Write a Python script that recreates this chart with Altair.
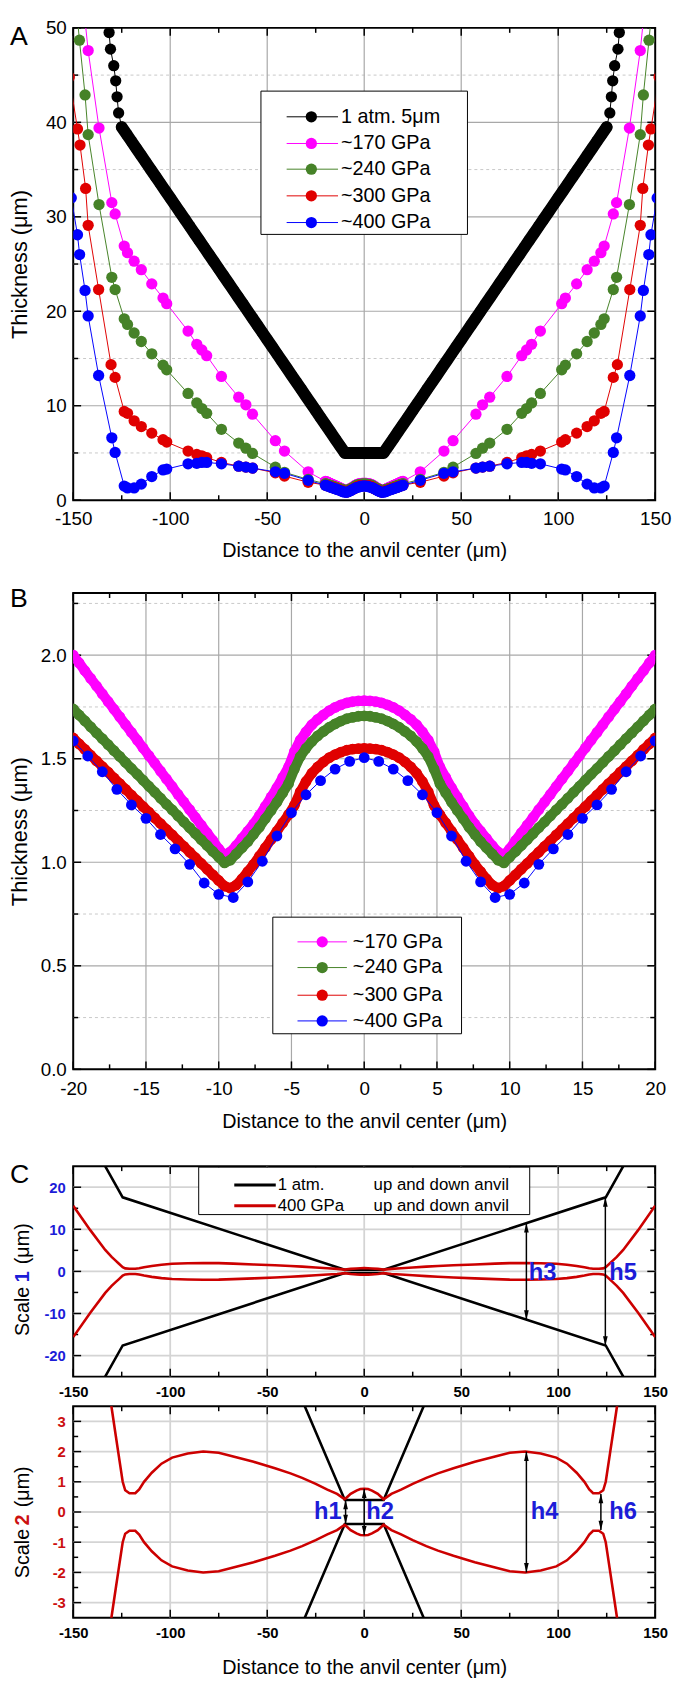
import altair as alt
import pandas as pd

FONT = "Liberation Sans, Arial, sans-serif"
W = 589
H_A, H_B, H_CU, H_CL = 478, 482, 213, 214

COL_BLACK = "#000000"
COL_MAG = "#ff00ff"
COL_GRN = "#468228"
COL_RED = "#e00000"
COL_BLU = "#0000ff"
COL_CRED = "#cc0000"
COL_LBLUE = "#1c1cd8"
COL_LRED = "#cc1010"
GRID_MAJOR = "#a8a8a8"
GRID_MINOR = "#c8c8c8"
GRID_C = "#d4d4d4"

# ---------------- Panel A data ----------------
A_BLACK_X = [-132.3, -131.5, -130.8, -129.1, -128.1, -127.4, -126.6,
             -125.0, -122.5, -120.0, -117.5, -115.0, -112.5, -110.0, -107.5, -105.0, -102.5,
             -100.0, -97.5, -95.0, -92.5, -90.0, -87.5, -85.0, -82.5, -80.0, -77.5, -75.0,
             -72.5, -70.0, -67.5, -65.0, -62.5, -60.0, -57.5, -55.0, -52.5, -50.0, -47.5,
             -45.0, -42.5, -40.0, -37.5, -35.0, -32.5, -30.0, -27.5, -25.0, -22.5, -20.0,
             -17.5, -15.0, -12.5, -10.0,
             -7.5, -5.0, -2.5, 0.0, 2.5, 5.0, 7.5,
             10.0, 12.5, 15.0, 17.5, 20.0, 22.5, 25.0, 27.5, 30.0, 32.5, 35.0, 37.5, 40.0,
             42.5, 45.0, 47.5, 50.0, 52.5, 55.0, 57.5, 60.0, 62.5, 65.0, 67.5, 70.0, 72.5,
             75.0, 77.5, 80.0, 82.5, 85.0, 87.5, 90.0, 92.5, 95.0, 97.5, 100.0, 102.5, 105.0,
             107.5, 110.0, 112.5, 115.0, 117.5, 120.0, 122.5, 125.0,
             126.6, 127.4, 128.1, 129.1, 130.8, 131.5, 132.3]
A_BLACK_Y = [51.3, 49.5, 47.75, 46.0, 44.4, 42.7, 41.0,
             39.5, 38.75, 38.0, 37.25, 36.5, 35.75, 35.0, 34.25, 33.5, 32.75,
             32.0, 31.25, 30.5, 29.75, 29.0, 28.25, 27.5, 26.75, 26.0, 25.25, 24.5,
             23.75, 23.0, 22.25, 21.5, 20.75, 20.0, 19.25, 18.5, 17.75, 17.0, 16.25,
             15.5, 14.75, 14.0, 13.25, 12.5, 11.75, 11.0, 10.25, 9.5, 8.75, 8.0,
             7.25, 6.5, 5.75, 5.0,
             5.0, 5.0, 5.0, 5.0, 5.0, 5.0, 5.0,
             5.0, 5.75, 6.5, 7.25, 8.0, 8.75, 9.5, 10.25, 11.0, 11.75, 12.5, 13.25, 14.0,
             14.75, 15.5, 16.25, 17.0, 17.75, 18.5, 19.25, 20.0, 20.75, 21.5, 22.25, 23.0, 23.75,
             24.5, 25.25, 26.0, 26.75, 27.5, 28.25, 29.0, 29.75, 30.5, 31.25, 32.0, 32.75, 33.5,
             34.25, 35.0, 35.75, 36.5, 37.25, 38.0, 38.75, 39.5,
             41.0, 42.7, 44.4, 46.0, 47.75, 49.5, 51.3]

A_MAG_XL = [-144.5, -142.3, -136.7, -130.1, -128.4, -123.7, -122.0, -118.6, -114.9, -109.5, -103.7, -101.8,
            -90.8, -86.3, -83.7, -81.2, -73.6, -64.7, -61.0, -57.6, -45.8, -41.1, -28.9]
A_MAG_YL = [52.0, 47.6, 39.4, 31.5, 30.3, 26.9, 26.2, 25.3, 24.4, 22.9, 21.4, 20.8,
            17.9, 16.5, 15.9, 15.3, 13.1, 10.9, 10.1, 9.1, 6.3, 5.2, 3.0]
A_MAG_XR = [28.9, 41.1, 45.8, 57.6, 61.0, 64.7, 73.6, 81.2, 83.7, 86.3, 90.8, 101.8, 103.7,
            109.5, 114.9, 118.6, 122.0, 123.7, 128.4, 130.1, 136.7, 142.3, 144.5]
A_MAG_YR = [3.0, 5.2, 6.3, 9.1, 10.1, 10.9, 13.1, 15.3, 15.9, 16.5, 17.9, 20.8, 21.4,
            22.9, 24.4, 25.3, 26.2, 26.9, 30.3, 31.5, 39.4, 47.6, 52.0]

A_GRN_XL = [-148.5, -146.8, -143.9, -142.3, -136.7, -130.1, -128.4, -123.7, -122.0, -118.6, -114.9, -109.5,
            -103.7, -101.8, -90.8, -86.3, -83.7, -81.2, -73.6, -64.7, -61.0, -57.6, -45.8, -41.1, -28.9]
A_GRN_YL = [52.5, 48.7, 42.9, 38.7, 31.3, 23.6, 22.3, 19.2, 18.6, 17.7, 16.8, 15.5,
            14.3, 13.8, 11.3, 10.3, 9.7, 9.2, 7.5, 6.05, 5.5, 4.95, 3.5, 2.95, 2.2]
A_GRN_XR = [28.9, 41.1, 45.8, 57.6, 61.0, 64.7, 73.6, 81.2, 83.7, 86.3, 90.8, 101.8, 103.7,
            109.5, 114.9, 118.6, 122.0, 123.7, 128.4, 130.1, 136.7, 142.3, 143.9, 146.8, 148.5]
A_GRN_YR = [2.2, 2.95, 3.5, 4.95, 5.5, 6.05, 7.5, 9.2, 9.7, 10.3, 11.3, 13.8, 14.3,
            15.5, 16.8, 17.7, 18.6, 19.2, 22.3, 23.6, 31.3, 38.7, 42.9, 48.7, 52.5]

A_RED_XL = [-152.0, -147.8, -146.5, -143.6, -142.3, -136.9, -130.5, -128.4, -123.7, -122.0, -118.6, -114.9,
            -109.5, -103.7, -101.8, -90.8, -86.3, -83.7, -81.2, -73.6, -64.7, -61.0, -57.6, -45.8, -41.1, -28.9]
A_RED_YL = [44.8, 39.3, 37.6, 33.0, 29.1, 22.3, 14.35, 13.0, 9.4, 9.2, 8.4, 7.8,
            7.1, 6.4, 6.15, 5.2, 4.85, 4.7, 4.5, 4.0, 3.6, 3.5, 3.4, 2.9, 2.55, 1.9]
A_RED_XR = [28.9, 41.1, 45.8, 57.6, 61.0, 64.7, 73.6, 81.2, 83.7, 86.3, 90.8, 101.8, 103.7,
            109.5, 114.9, 118.6, 122.0, 123.7, 128.4, 130.5, 136.9, 142.3, 143.6, 146.5, 147.8, 152.0]
A_RED_YR = [1.9, 2.55, 2.9, 3.4, 3.5, 3.6, 4.0, 4.5, 4.7, 4.85, 5.2, 6.15, 6.4,
            7.1, 7.8, 8.4, 9.2, 9.4, 13.0, 14.35, 22.3, 29.1, 33.0, 37.6, 39.3, 44.8]

A_BLU_XL = [-151.0, -147.8, -146.7, -143.9, -142.3, -136.9, -130.1, -128.4, -123.7, -122.0, -118.6, -114.9,
            -109.5, -103.7, -101.8, -90.8, -86.3, -83.7, -81.2, -73.6, -64.7, -61.0, -57.6, -45.8, -41.1, -28.9]
A_BLU_YL = [32.0, 28.1, 26.0, 22.2, 19.5, 13.2, 6.6, 5.05, 1.5, 1.3, 1.3, 1.7,
            2.5, 3.2, 3.3, 3.85, 3.9, 4.0, 4.0, 3.85, 3.6, 3.5, 3.4, 3.0, 2.85, 2.1]
A_BLU_XR = [28.9, 41.1, 45.8, 57.6, 61.0, 64.7, 73.6, 81.2, 83.7, 86.3, 90.8, 101.8, 103.7,
            109.5, 114.9, 118.6, 122.0, 123.7, 128.4, 130.1, 136.9, 142.3, 143.9, 146.7, 147.8, 151.0]
A_BLU_YR = [2.1, 2.85, 3.0, 3.4, 3.5, 3.6, 3.85, 4.0, 4.0, 3.9, 3.85, 3.3, 3.2,
            2.5, 1.7, 1.3, 1.3, 1.5, 5.05, 6.6, 13.2, 19.5, 22.2, 26.0, 28.1, 32.0]

A_LEGEND = ["1 atm. 5\u03bcm", "~170 GPa", "~240 GPa", "~300 GPa", "~400 GPa"]
A_X_TICKS = [-150, -100, -50, 0, 50, 100, 150]
A_X_MINOR = [-125, -75, -25, 25, 75, 125]
A_X_GRID = [-100, -50, 0, 50, 100]
A_Y_TICKS = [0, 10, 20, 30, 40, 50]
A_Y_GRID = [10, 20, 30, 40]
A_Y_MINOR = [5, 15, 25, 35, 45]

# ---------------- Panel B data ----------------
B_X = [-20.0, -19.6, -19.2, -18.8, -18.4, -18.0, -17.6, -17.2, -16.8, -16.4, -16.0, -15.6, -15.2, -14.8,
       -14.4, -14.0, -13.6, -13.2, -12.8, -12.4, -12.0, -11.6, -11.2, -10.8, -10.4, -10.0, -9.6, -9.2,
       -8.8, -8.4, -8.0, -7.6, -7.2, -6.8, -6.4, -6.0, -5.6, -5.2, -4.8, -4.4, -4.0, -3.6, -3.2, -2.8,
       -2.4, -2.0, -1.6, -1.2, -0.8, -0.4, 0.0, 0.4, 0.8, 1.2, 1.6, 2.0, 2.4, 2.8, 3.2, 3.6, 4.0, 4.4,
       4.8, 5.2, 5.6, 6.0, 6.4, 6.8, 7.2, 7.6, 8.0, 8.4, 8.8, 9.2, 9.6, 10.0, 10.4, 10.8, 11.2, 11.6,
       12.0, 12.4, 12.8, 13.2, 13.6, 14.0, 14.4, 14.8, 15.2, 15.6, 16.0, 16.4, 16.8, 17.2, 17.6, 18.0,
       18.4, 18.8, 19.2, 19.6, 20.0]
B_MAG = [2.000, 1.963, 1.925, 1.888, 1.851, 1.813, 1.776, 1.739, 1.702, 1.664, 1.627, 1.590, 1.552, 1.515,
         1.478, 1.440, 1.403, 1.366, 1.328, 1.291, 1.254, 1.216, 1.179, 1.142, 1.105, 1.065, 1.035, 1.050,
         1.080, 1.115, 1.150, 1.185, 1.225, 1.270, 1.315, 1.360, 1.410, 1.460, 1.535, 1.590, 1.630, 1.664,
         1.690, 1.712, 1.732, 1.748, 1.760, 1.770, 1.776, 1.779, 1.780, 1.779, 1.776, 1.770, 1.760, 1.748,
         1.732, 1.712, 1.690, 1.664, 1.630, 1.590, 1.535, 1.460, 1.410, 1.360, 1.315, 1.270, 1.225, 1.185,
         1.150, 1.115, 1.080, 1.050, 1.035, 1.065, 1.105, 1.142, 1.179, 1.216, 1.254, 1.291, 1.328, 1.366,
         1.403, 1.440, 1.478, 1.515, 1.552, 1.590, 1.627, 1.664, 1.702, 1.739, 1.776, 1.813, 1.851, 1.888,
         1.925, 1.963, 2.000]
B_GRN = [1.740, 1.711, 1.683, 1.654, 1.625, 1.597, 1.568, 1.539, 1.511, 1.482, 1.453, 1.425, 1.396, 1.367,
         1.339, 1.310, 1.281, 1.253, 1.224, 1.195, 1.167, 1.138, 1.109, 1.081, 1.052, 1.025, 0.997, 1.010,
         1.040, 1.070, 1.100, 1.135, 1.170, 1.210, 1.250, 1.290, 1.335, 1.380, 1.450, 1.510, 1.550, 1.583,
         1.610, 1.632, 1.652, 1.668, 1.682, 1.693, 1.700, 1.705, 1.707, 1.705, 1.700, 1.693, 1.682, 1.668,
         1.652, 1.632, 1.610, 1.583, 1.550, 1.510, 1.450, 1.380, 1.335, 1.290, 1.250, 1.210, 1.170, 1.135,
         1.100, 1.070, 1.040, 1.010, 0.997, 1.025, 1.052, 1.081, 1.109, 1.138, 1.167, 1.195, 1.224, 1.253,
         1.281, 1.310, 1.339, 1.367, 1.396, 1.425, 1.453, 1.482, 1.511, 1.539, 1.568, 1.597, 1.625, 1.654,
         1.683, 1.711, 1.740]
B_RED = [1.600, 1.572, 1.545, 1.517, 1.490, 1.462, 1.435, 1.407, 1.380, 1.352, 1.324, 1.297, 1.269, 1.242,
         1.214, 1.187, 1.159, 1.132, 1.104, 1.077, 1.049, 1.022, 0.994, 0.967, 0.939, 0.912, 0.885, 0.875,
         0.890, 0.920, 0.955, 0.990, 1.030, 1.070, 1.110, 1.150, 1.190, 1.230, 1.275, 1.340, 1.390, 1.430,
         1.460, 1.485, 1.505, 1.520, 1.532, 1.541, 1.546, 1.549, 1.550, 1.549, 1.546, 1.541, 1.532, 1.520,
         1.505, 1.485, 1.460, 1.430, 1.390, 1.340, 1.275, 1.230, 1.190, 1.150, 1.110, 1.070, 1.030, 0.990,
         0.955, 0.920, 0.890, 0.875, 0.885, 0.912, 0.939, 0.967, 0.994, 1.022, 1.049, 1.077, 1.104, 1.132,
         1.159, 1.187, 1.214, 1.242, 1.269, 1.297, 1.324, 1.352, 1.380, 1.407, 1.435, 1.462, 1.490, 1.517,
         1.545, 1.572, 1.600]
B_BLU_X = [-20, -19, -18, -17, -16, -15, -14, -13, -12, -11, -10, -9, -8, -7, -6, -5, -4, -3, -2, -1, 0,
           1, 2, 3, 4, 5, 6, 7, 8, 9, 10, 11, 12, 13, 14, 15, 16, 17, 18, 19, 20]
B_BLU = [1.586, 1.513, 1.437, 1.352, 1.277, 1.212, 1.134, 1.065, 0.990, 0.900, 0.845, 0.830, 0.905, 1.005,
         1.127, 1.240, 1.326, 1.394, 1.450, 1.487, 1.505, 1.487, 1.450, 1.394, 1.326, 1.240, 1.127, 1.005,
         0.905, 0.830, 0.845, 0.900, 0.990, 1.065, 1.134, 1.212, 1.277, 1.352, 1.437, 1.513, 1.586]

B_LEGEND = ["~170 GPa", "~240 GPa", "~300 GPa", "~400 GPa"]
B_X_TICKS = [-20, -15, -10, -5, 0, 5, 10, 15, 20]
B_X_MINOR = [-17.5, -12.5, -7.5, -2.5, 2.5, 7.5, 12.5, 17.5]
B_X_GRID = [-15, -10, -5, 0, 5, 10, 15]
B_Y_TICKS = [0.0, 0.5, 1.0, 1.5, 2.0]
B_Y_GRID = [0.5, 1.0, 1.5, 2.0]
B_Y_MINOR = [0.25, 0.75, 1.25, 1.75, 2.25]

# ---------------- Panel C data ----------------
C_BLACK_X = [-140.0, -124.5, -10.0, 10.0, 124.5, 140.0]
C_BLACK_UP = [30.3, 17.6, 0.4, 0.4, 17.6, 30.3]
C_BLACK_DN = [-30.3, -17.6, -0.4, -0.4, -17.6, -30.3]
C_RED_X = [-150.0, -141.2, -133.5, -130.2, -128.0, -126.7, -124.5, -123.2, -121.0, -118.0, -116.0, -113.5,
           -109.5, -104.5, -99.0, -91.0, -83.0, -75.0, -67.5, -57.0, -46.0, -38.0, -32.0, -25.0, -19.0,
           -14.0, -10.0, -7.0, -4.0, -2.0, 0.0, 2.0, 4.0, 7.0, 10.0, 14.0, 19.0, 25.0, 32.0, 38.0, 46.0,
           57.0, 67.5, 75.0, 83.0, 91.0, 99.0, 104.5, 109.5, 113.5, 116.0, 118.0, 121.0, 123.2, 124.5,
           126.7, 128.0, 130.2, 133.5, 141.2, 150.0]
C_RED_UP = [15.6, 9.8, 5.1, 3.45, 2.5, 1.94, 1.0, 0.72, 0.62, 0.62, 0.75, 1.0,
            1.3, 1.6, 1.8, 1.94, 2.0, 1.96, 1.84, 1.66, 1.45, 1.28, 1.13, 0.93, 0.74,
            0.6, 0.42, 0.6, 0.71, 0.76, 0.77, 0.76, 0.71, 0.6, 0.42, 0.6, 0.74, 0.93, 1.13, 1.28, 1.45,
            1.66, 1.84, 1.96, 2.0, 1.94, 1.8, 1.6, 1.3, 1.0, 0.75, 0.62, 0.62, 0.72, 1.0,
            1.94, 2.5, 3.45, 5.1, 9.8, 15.6]
C_RED_DN = [-v for v in C_RED_UP]
C_LEGEND = ["1 atm.", "400 GPa"]
C_LEGEND_NOTE = "up and down anvil"
CU_ARROW_X = [83.6, 124.3]
CU_ARROW_TOP = [11.45, 17.6]
CU_ARROW_BOT = [-11.45, -17.6]
CU_LABELS = ["h3", "h5"]
CU_LABEL_X = [92.0, 133.5]
CU_LABEL_Y = [-0.4, -0.4]
CL_ARROW_X = [-9.6, 0.0, 83.6, 122.0]
CL_ARROW_TOP = [0.4, 0.77, 2.0, 0.6]
CL_ARROW_BOT = [-0.4, -0.77, -2.0, -0.6]
CL_LABELS = ["h1", "h2", "h4", "h6"]
CL_LABEL_X = [-18.7, 8.2, 93.0, 133.5]
CL_LABEL_Y = [0.0, 0.0, 0.0, 0.0]
C_X_TICKS = [-150, -100, -50, 0, 50, 100, 150]
C_X_MINOR = [-125, -75, -25, 25, 75, 125]
C_X_GRID = [-100, -50, 0, 50, 100]
CU_Y_TICKS = [-20, -10, 0, 10, 20]
CU_Y_MINOR = [-15, -5, 5, 15]
CL_Y_TICKS = [-3, -2, -1, 0, 1, 2, 3]
CL_Y_MINOR = [-2.5, -1.5, -0.5, 0.5, 1.5, 2.5]

X_TITLE = "Distance to the anvil center (\u03bcm)"
Y_TITLE = "Thickness (\u03bcm)"

ONE = pd.DataFrame({"a": [0]})
INT_LABEL = "'' + datum.value"


def rules_v(vals, xs, color, width, dash=None):
    kw = dict(color=color, strokeWidth=width)
    if dash:
        kw["strokeDash"] = dash
    return alt.Chart(pd.DataFrame({"v": vals})).mark_rule(**kw).encode(
        x=alt.X("v:Q", scale=xs))


def rules_h(vals, ys, color, width, dash=None):
    kw = dict(color=color, strokeWidth=width)
    if dash:
        kw["strokeDash"] = dash
    return alt.Chart(pd.DataFrame({"v": vals})).mark_rule(**kw).encode(
        y=alt.Y("v:Q", scale=ys))


def ticks_x(vals, xs, H, length):
    d = pd.DataFrame({"v": vals})
    return [
        alt.Chart(d).mark_rule(color="black", strokeWidth=1.5).encode(
            x=alt.X("v:Q", scale=xs), y=alt.value(H), y2=alt.value(H - length)),
        alt.Chart(d).mark_rule(color="black", strokeWidth=1.5).encode(
            x=alt.X("v:Q", scale=xs), y=alt.value(0), y2=alt.value(length)),
    ]


def ticks_y(vals, ys, length):
    d = pd.DataFrame({"v": vals})
    return [
        alt.Chart(d).mark_rule(color="black", strokeWidth=1.5).encode(
            y=alt.Y("v:Q", scale=ys), x=alt.value(0), x2=alt.value(length)),
        alt.Chart(d).mark_rule(color="black", strokeWidth=1.5).encode(
            y=alt.Y("v:Q", scale=ys), x=alt.value(W), x2=alt.value(W - length)),
    ]


def axis_layer(xs, ys, xaxis, yaxis, x0, y0):
    return alt.Chart(pd.DataFrame({"x": [x0], "y": [y0]})).mark_point(opacity=0).encode(
        x=alt.X("x:Q", scale=xs, axis=xaxis), y=alt.Y("y:Q", scale=ys, axis=yaxis))


def series(x, y, color, xs, ys, size=None, lw=1.0, band=None, band_from=0, band_to=None):
    d = pd.DataFrame({"x": x, "y": y, "i": list(range(len(x)))})
    enc = dict(x=alt.X("x:Q", scale=xs), y=alt.Y("y:Q", scale=ys))
    out = []
    if band:
        db = d.iloc[band_from:band_to]
        out.append(alt.Chart(db).mark_line(color=color, strokeWidth=band, strokeJoin="round",
                                           strokeCap="round", clip=True).encode(order="i:Q", **enc))
    out.append(alt.Chart(d).mark_line(color=color, strokeWidth=lw, clip=True).encode(order="i:Q", **enc))
    if size:
        out.append(alt.Chart(d).mark_circle(color=color, size=size, opacity=1, clip=True).encode(**enc))
    return out


def text_px(t, x, y, size, color="black", weight="normal", align="left", angle=0):
    kw = dict(align=align, baseline="middle", font=FONT, fontSize=size, color=color, fontWeight=weight)
    if angle:
        kw["angle"] = angle
    return alt.Chart(pd.DataFrame({"t": [t]})).mark_text(**kw).encode(
        x=alt.value(x), y=alt.value(y), text="t:N")


def legend_dots(labels, colors, box, rows, lx, cx, tx, size, fsize):
    out = [alt.Chart(ONE).mark_rect(fill="white", stroke="black", strokeWidth=1).encode(
        x=alt.value(box[0]), x2=alt.value(box[1]), y=alt.value(box[2]), y2=alt.value(box[3]))]
    for lab, col, ry in zip(labels, colors, rows):
        out.append(alt.Chart(ONE).mark_rule(color=col, strokeWidth=1).encode(
            x=alt.value(lx[0]), x2=alt.value(lx[1]), y=alt.value(ry)))
        out.append(alt.Chart(ONE).mark_circle(color=col, size=size, opacity=1).encode(
            x=alt.value(cx), y=alt.value(ry)))
        out.append(text_px(lab, tx, ry, fsize))
    return out


def xaxis_plain(values, title, title_y=52, expr=INT_LABEL, bold=False, size=19, pad=10):
    kw = dict(values=values, tickCount=40, labelExpr=expr, ticks=False, domain=False, grid=False,
              labelOverlap=False, labelFont=FONT, labelFontSize=size, labelColor="black", labelPadding=pad,
              labelFontWeight="bold" if bold else "normal", labelFlush=False)
    if title:
        kw.update(title=title, titleFont=FONT, titleFontSize=20, titleFontWeight="normal",
                  titleColor="black", titleX=W / 2, titleY=title_y, titleBaseline="middle",
                  titleAlign="center")
    else:
        kw["title"] = ""
    return alt.Axis(**kw)


def yaxis_plain(values, title, H, expr=INT_LABEL, bold=False, color="black", size=19, pad=7):
    kw = dict(values=values, tickCount=40, labelExpr=expr, ticks=False, domain=False, grid=False,
              labelOverlap=False, labelFont=FONT, labelFontSize=size, labelColor=color, labelPadding=pad,
              labelFontWeight="bold" if bold else "normal", labelFlush=False)
    if title:
        kw.update(title=title, titleFont=FONT, titleFontSize=22, titleFontWeight="normal",
                  titleColor="black", titleX=-54, titleY=H / 2, titleAngle=270,
                  titleBaseline="middle", titleAlign="center")
    else:
        kw["title"] = ""
    return alt.Axis(**kw)


# ---------------- Panel A ----------------
xsA = alt.Scale(domain=[-150, 150], nice=False, zero=False)
ysA = alt.Scale(domain=[0, 50], nice=False, zero=False)
lA = [axis_layer(xsA, ysA, xaxis_plain(A_X_TICKS, X_TITLE, title_y=51),
                 yaxis_plain(A_Y_TICKS, Y_TITLE, H_A), 0, 0),
      rules_h(A_Y_MINOR, ysA, GRID_MINOR, 1, [3, 3]),
      rules_v(A_X_GRID, xsA, GRID_MAJOR, 1.2),
      rules_h(A_Y_GRID, ysA, GRID_MAJOR, 1.2)]
lA += ticks_x(A_X_TICKS, xsA, H_A, 8) + ticks_x(A_X_MINOR, xsA, H_A, 5)
lA += ticks_y(A_Y_TICKS, ysA, 8) + ticks_y(A_Y_MINOR, ysA, 5)
SZ_A = 130
lA += series(A_BLACK_X, A_BLACK_Y, COL_BLACK, xsA, ysA, SZ_A, band=12, band_from=7, band_to=-7)
lA += series(A_MAG_XL + B_X + A_MAG_XR, A_MAG_YL + B_MAG + A_MAG_YR, COL_MAG, xsA, ysA, SZ_A)
lA += series(A_GRN_XL + B_X + A_GRN_XR, A_GRN_YL + B_GRN + A_GRN_YR, COL_GRN, xsA, ysA, SZ_A)
lA += series(A_RED_XL + B_X + A_RED_XR, A_RED_YL + B_RED + A_RED_YR, COL_RED, xsA, ysA, SZ_A)
lA += series(A_BLU_XL + B_BLU_X + A_BLU_XR, A_BLU_YL + B_BLU + A_BLU_YR, COL_BLU, xsA, ysA, SZ_A)
lA += legend_dots(A_LEGEND, [COL_BLACK, COL_MAG, COL_GRN, COL_RED, COL_BLU],
                  (190, 399, 64, 209), [90, 117, 143, 170, 197], (216, 268), 241, 271, SZ_A, 20)
lA.append(text_px("A", -64, 9, 27))
panelA = alt.layer(*lA).properties(width=W, height=H_A)

# ---------------- Panel B ----------------
xsB = alt.Scale(domain=[-20, 20], nice=False, zero=False)
ysB = alt.Scale(domain=[0, 2.3], nice=False, zero=False)
lB = [axis_layer(xsB, ysB, xaxis_plain(B_X_TICKS, X_TITLE, title_y=53),
                 yaxis_plain(B_Y_TICKS, Y_TITLE, H_B, expr="format(datum.value, '.1f')"), 0, 0),
      rules_h(B_Y_MINOR, ysB, GRID_MINOR, 1, [3, 3]),
      rules_v(B_X_GRID, xsB, GRID_MAJOR, 1.2),
      rules_h(B_Y_GRID, ysB, GRID_MAJOR, 1.2)]
lB += ticks_x(B_X_TICKS, xsB, H_B, 8) + ticks_x(B_X_MINOR, xsB, H_B, 5)
lB += ticks_y(B_Y_TICKS, ysB, 8) + ticks_y(B_Y_MINOR, ysB, 5)
SZ_B = 120
lB += series(B_X, B_MAG, COL_MAG, xsB, ysB, SZ_B, band=10)
lB += series(B_X, B_GRN, COL_GRN, xsB, ysB, SZ_B, band=10)
lB += series(B_X, B_RED, COL_RED, xsB, ysB, SZ_B, band=10)
lB += series(B_BLU_X, B_BLU, COL_BLU, xsB, ysB, SZ_B)
lB += legend_dots(B_LEGEND, [COL_MAG, COL_GRN, COL_RED, COL_BLU],
                  (202, 393, 328, 446), [353, 379, 407, 433], (227, 277), 252, 283, SZ_A, 20)
lB.append(text_px("B", -64, 6, 27))
panelB = alt.layer(*lB).properties(width=W, height=H_B)


# ---------------- Panel C ----------------
def arrows(xv, top, bot, xs, ys):
    d = pd.DataFrame({"x": xv, "t": top, "b": bot})
    ex = alt.X("x:Q", scale=xs)
    return [
        alt.Chart(d).mark_rule(color="black", strokeWidth=1.5).encode(
            x=ex, y=alt.Y("t:Q", scale=ys), y2="b:Q"),
        alt.Chart(d).mark_point(shape="M0,-1L0.5,1L-0.5,1Z", filled=True, color="black", size=90,
                                opacity=1, yOffset=4.7).encode(x=ex, y=alt.Y("t:Q", scale=ys)),
        alt.Chart(d).mark_point(shape="M0,1L0.5,-1L-0.5,-1Z", filled=True, color="black", size=90,
                                opacity=1, yOffset=-4.7).encode(x=ex, y=alt.Y("b:Q", scale=ys)),
    ]


def hlabels(labels, lx, ly, xs, ys):
    d = pd.DataFrame({"t": labels, "x": lx, "y": ly})
    return alt.Chart(d).mark_text(font=FONT, fontSize=24, fontWeight="bold", color=COL_LBLUE,
                                  align="center", baseline="middle").encode(
        x=alt.X("x:Q", scale=xs), y=alt.Y("y:Q", scale=ys), text="t:N")


def c_lines(xs, ys):
    out = []
    out += series(C_BLACK_X, C_BLACK_UP, COL_BLACK, xs, ys, lw=2.6)
    out += series(C_BLACK_X, C_BLACK_DN, COL_BLACK, xs, ys, lw=2.6)
    out += series(C_RED_X, C_RED_UP, COL_CRED, xs, ys, lw=2.6)
    out += series(C_RED_X, C_RED_DN, COL_CRED, xs, ys, lw=2.6)
    return out


xsC = alt.Scale(domain=[-150, 150], nice=False, zero=False)
ysCU = alt.Scale(domain=[-25, 25], nice=False, zero=False)
ysCL = alt.Scale(domain=[-3.5, 3.5], nice=False, zero=False)

lCU = [axis_layer(xsC, ysCU, xaxis_plain(C_X_TICKS, None, bold=True, size=15, pad=8),
                  yaxis_plain(CU_Y_TICKS, None, H_CU, bold=True, color=COL_LBLUE, size=15, pad=8), 0, 0),
       rules_v(C_X_GRID, xsC, GRID_C, 1.8), rules_h(CU_Y_TICKS, ysCU, GRID_C, 1.8)]
lCU += ticks_x(C_X_TICKS, xsC, H_CU, 8) + ticks_x(C_X_MINOR, xsC, H_CU, 5)
lCU += ticks_y(CU_Y_TICKS, ysCU, 8) + ticks_y(CU_Y_MINOR, ysCU, 5)
lCU += c_lines(xsC, ysCU)
lCU += arrows(CU_ARROW_X, CU_ARROW_TOP, CU_ARROW_BOT, xsC, ysCU)
lCU.append(hlabels(CU_LABELS, CU_LABEL_X, CU_LABEL_Y, xsC, ysCU))
lCU.append(alt.Chart(ONE).mark_rect(fill="white", stroke="black", strokeWidth=1).encode(
    x=alt.value(127), x2=alt.value(462), y=alt.value(1), y2=alt.value(49)))
for lab, col, ry in zip(C_LEGEND, [COL_BLACK, COL_CRED], [19, 40]):
    lCU.append(alt.Chart(ONE).mark_rule(color=col, strokeWidth=3).encode(
        x=alt.value(163), x2=alt.value(205), y=alt.value(ry)))
    lCU.append(text_px(lab, 207, ry, 17))
    lCU.append(text_px(C_LEGEND_NOTE, 304, ry, 17))
lCU.append(text_px("Scale", -51, 147, 20, angle=270, align="center"))
lCU.append(text_px("1", -51, 112, 20, color=COL_LBLUE, weight="bold", angle=270, align="center"))
lCU.append(text_px("(\u03bcm)", -51, 78.5, 20, angle=270, align="center"))
lCU.append(text_px("C", -64, 9, 27))
panelCU = alt.layer(*lCU).properties(width=W, height=H_CU)

lCL = [axis_layer(xsC, ysCL, xaxis_plain(C_X_TICKS, X_TITLE, title_y=50, bold=True, size=15, pad=8),
                  yaxis_plain(CL_Y_TICKS, None, H_CL, bold=True, color=COL_LRED, size=15, pad=8), 0, 0),
       rules_v(C_X_GRID, xsC, GRID_C, 1.8), rules_h(CL_Y_TICKS, ysCL, GRID_C, 1.8)]
lCL += ticks_x(C_X_TICKS, xsC, H_CL, 8) + ticks_x(C_X_MINOR, xsC, H_CL, 5)
lCL += ticks_y(CL_Y_TICKS, ysCL, 8) + ticks_y(CL_Y_MINOR, ysCL, 5)
lCL += c_lines(xsC, ysCL)
lCL += arrows(CL_ARROW_X, CL_ARROW_TOP, CL_ARROW_BOT, xsC, ysCL)
lCL.append(hlabels(CL_LABELS, CL_LABEL_X, CL_LABEL_Y, xsC, ysCL))
lCL.append(text_px("Scale", -51, 149, 20, angle=270, align="center"))
lCL.append(text_px("2", -51, 115, 20, color=COL_LRED, weight="bold", angle=270, align="center"))
lCL.append(text_px("(\u03bcm)", -51, 81.5, 20, angle=270, align="center"))
panelCL = alt.layer(*lCL).properties(width=W, height=H_CL)

panelC = alt.vconcat(panelCU, panelCL, spacing=30, bounds="flush")
panelBC = alt.vconcat(panelB, panelC, spacing=98, bounds="flush")

chart = alt.VConcatChart(
    vconcat=[panelA, panelBC], spacing=94, bounds="flush",
    padding={"left": 0, "top": 0, "right": 0, "bottom": 0}, background="white",
).configure_view(stroke="black", strokeWidth=2)

chart.save("out.html", embed_options={"renderer": "svg", "actions": False})
